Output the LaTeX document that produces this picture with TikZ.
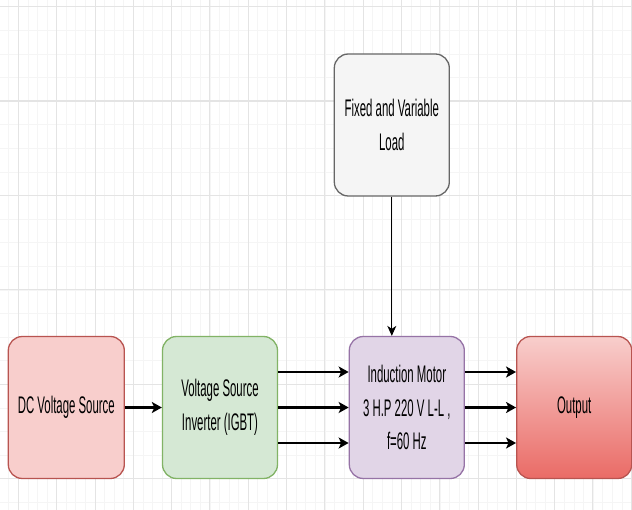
\documentclass[tikz,border=0pt]{standalone}
\usepackage{fontspec}
\setmainfont{Liberation Sans}[FakeStretch=0.475]
\usetikzlibrary{arrows.meta}
\definecolor{dcfill}{HTML}{F8CECC}
\definecolor{dcdraw}{HTML}{B85450}
\definecolor{vsifill}{HTML}{D5E8D4}
\definecolor{vsidraw}{HTML}{82B366}
\definecolor{motfill}{HTML}{E1D5E7}
\definecolor{motdraw}{HTML}{9673A6}
\definecolor{loadfill}{HTML}{F5F5F5}
\definecolor{loaddraw}{HTML}{666666}
\definecolor{outbot}{HTML}{EA6B66}
\definecolor{gridmajor}{HTML}{E4E4E4}
\definecolor{gridminor}{HTML}{F5F5F5}
\tikzset{
  blk/.style={rectangle, rounded corners=14pt, line width=1.3pt, minimum width=115pt,
    minimum height=142pt, inner sep=0pt, align=center, text=black,
    font=\fontsize{24}{33.5}\selectfont},
  thick arrow/.style={line width=2.4pt, -{Stealth[length=10pt,width=11pt,inset=2.5pt]}},
  thin arrow/.style={line width=1pt, -{Stealth[length=10pt,width=9pt,inset=3pt]}}
}
\begin{document}
\begin{tikzpicture}[x=1pt,y=-1pt]
\useasboundingbox (0,0) rectangle (632,510);
\fill[white] (0,0) rectangle (632,510);
% grid
\foreach \i in {0,...,66} {\draw[gridminor, line width=0.6pt] ({8.7+9.58*\i},0) -- ({8.7+9.58*\i},510);}
\foreach \i in {0,...,22} {\draw[gridminor, line width=0.6pt] (0,{6.7+23.6*\i}) -- (632,{6.7+23.6*\i});}
\foreach \i in {0,...,16} {\draw[gridmajor, line width=0.8pt] ({18.3+38.3*\i},0) -- ({18.3+38.3*\i},510);}
\foreach \i in {0,...,5} {\draw[gridmajor, line width=1.2pt] (0,{6.7+94.4*\i}) -- (632,{6.7+94.4*\i});}
% blocks
\node[blk, fill=dcfill, draw=dcdraw, minimum width=116pt] (dc) at (66.3,407.5) {DC Voltage Source};
\node[blk, fill=vsifill, draw=vsidraw] (vsi) at (220,407.5) {Voltage Source\\Inverter (IGBT)};
\node[blk, fill=motfill, draw=motdraw] (mot) at (406.8,407.5) {Induction Motor\\3 H.P 220 V L-L ,\\f=60 Hz};
\node[blk, top color=dcfill, bottom color=outbot, draw=dcdraw] (out) at (574.2,407.5) {Output};
\node[blk, fill=loadfill, draw=loaddraw] (load) at (391.8,125) {Fixed and Variable\\Load};
% connectors
\draw[thick arrow] (dc.east) -- (vsi.west);
\foreach \s in {35.5,0,-35.5} {
  \draw[thick arrow] ([yshift=\s pt]vsi.east) -- ([yshift=\s pt]mot.west);
  \draw[thick arrow] ([yshift=\s pt]mot.east) -- ([yshift=\s pt]out.west);
}
\draw[thin arrow] (load.south) -- (load.south |- mot.north);
\end{tikzpicture}
\end{document}
